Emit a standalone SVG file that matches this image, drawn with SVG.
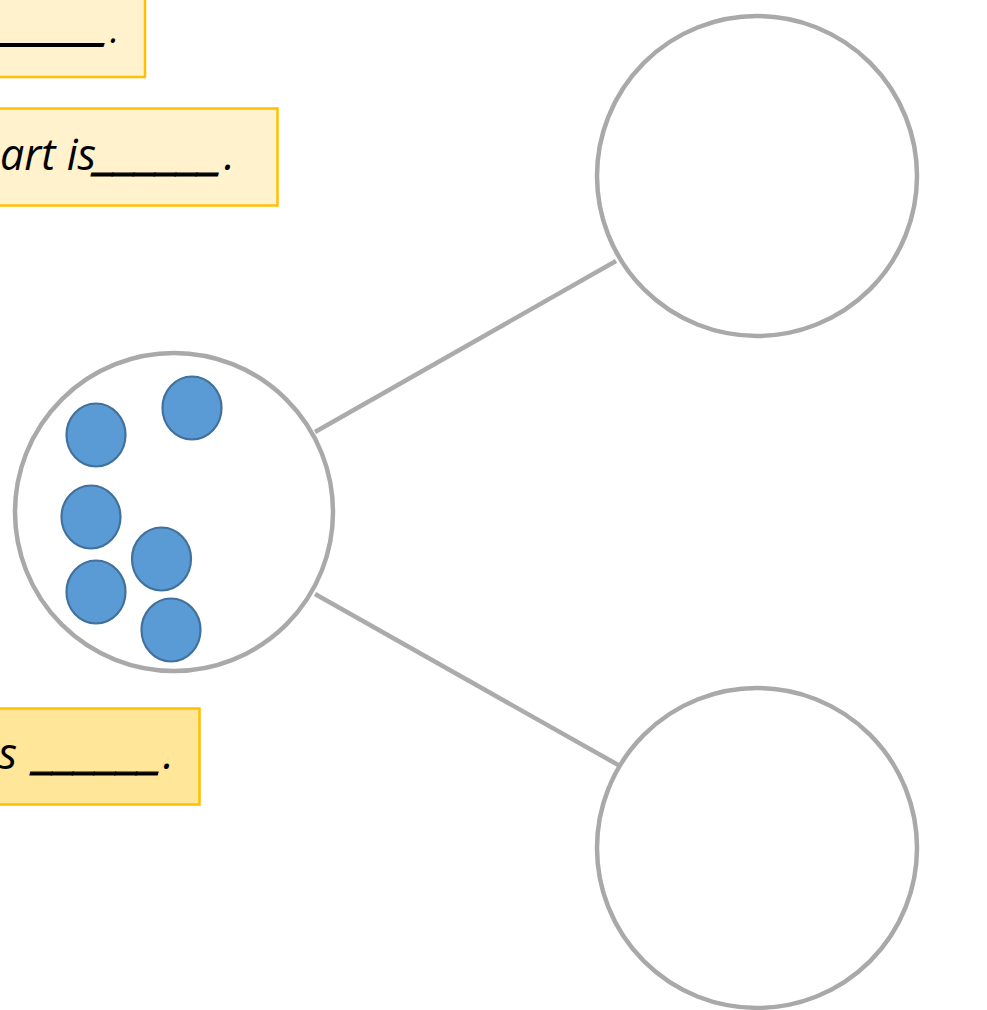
<svg xmlns="http://www.w3.org/2000/svg" width="987" height="1010" viewBox="0 0 987 1010">
<defs>
<style>
.box{stroke:#FFC000;stroke-width:2.5}
.light{fill:#FFF2CC}
.dark{fill:#FFE699}
.txt{font-family:"Open Sans","Noto Sans",sans-serif;font-style:italic;font-size:43px;fill:#000}
.sm{font-size:32px}
.us{stroke:#000;stroke-width:1.2}
.big{fill:#fff;stroke:#A9A9A9;stroke-width:4.5;filter:url(#soft)}
.conn{stroke:#ABABAB;stroke-width:4.5;filter:url(#soft)}
.dot{fill:#5B9BD5;stroke:#41719C;stroke-width:2.2}
</style>
<filter id="soft" x="-10%" y="-10%" width="120%" height="120%"><feGaussianBlur stdDeviation="0.6"/></filter>
</defs>
<rect width="987" height="1010" fill="#fff"/>
<g id="connectors">
<line class="conn" x1="315" y1="432" x2="616" y2="261"/>
<line class="conn" x1="315" y1="594" x2="620" y2="766"/>
</g>
<g id="box-top">
<rect class="box light" x="-3" y="-3" width="148" height="80"/>
<text class="txt sm us" x="1" y="41" textLength="106" lengthAdjust="spacingAndGlyphs" style="stroke-width:1.8">_____</text>
<text class="txt" x="110" y="43" style="font-size:36px">.</text>
</g>
<g id="box-middle">
<rect class="box light" x="-3" y="108.5" width="280.5" height="97"/>
<text class="txt" x="0" y="170">art is</text>
<text class="txt us" x="96" y="169" textLength="126" lengthAdjust="spacingAndGlyphs">______</text>
<text class="txt" x="224" y="170">.</text>
</g>
<g id="box-bottom">
<rect class="box dark" x="-3" y="708.5" width="202.5" height="96"/>
<text class="txt" x="17" y="769" text-anchor="end">s</text>
<text class="txt us" x="35" y="768" textLength="127" lengthAdjust="spacingAndGlyphs">______</text>
<text class="txt" x="163" y="769">.</text>
</g>
<g id="whole">
<circle class="big" cx="174" cy="512" r="159"/>
<ellipse class="dot" cx="96" cy="435" rx="29.5" ry="31.5"/>
<ellipse class="dot" cx="192" cy="408" rx="29.5" ry="31.5"/>
<ellipse class="dot" cx="91" cy="517" rx="29.5" ry="31.5"/>
<ellipse class="dot" cx="161.5" cy="559" rx="29.5" ry="31.5"/>
<ellipse class="dot" cx="96" cy="592" rx="29.5" ry="31.5"/>
<ellipse class="dot" cx="171" cy="630" rx="29.5" ry="31.5"/>
</g>
<g id="part-top">
<circle class="big" cx="757" cy="176" r="160"/>
</g>
<g id="part-bottom">
<circle class="big" cx="757" cy="848" r="160"/>
</g>
</svg>
